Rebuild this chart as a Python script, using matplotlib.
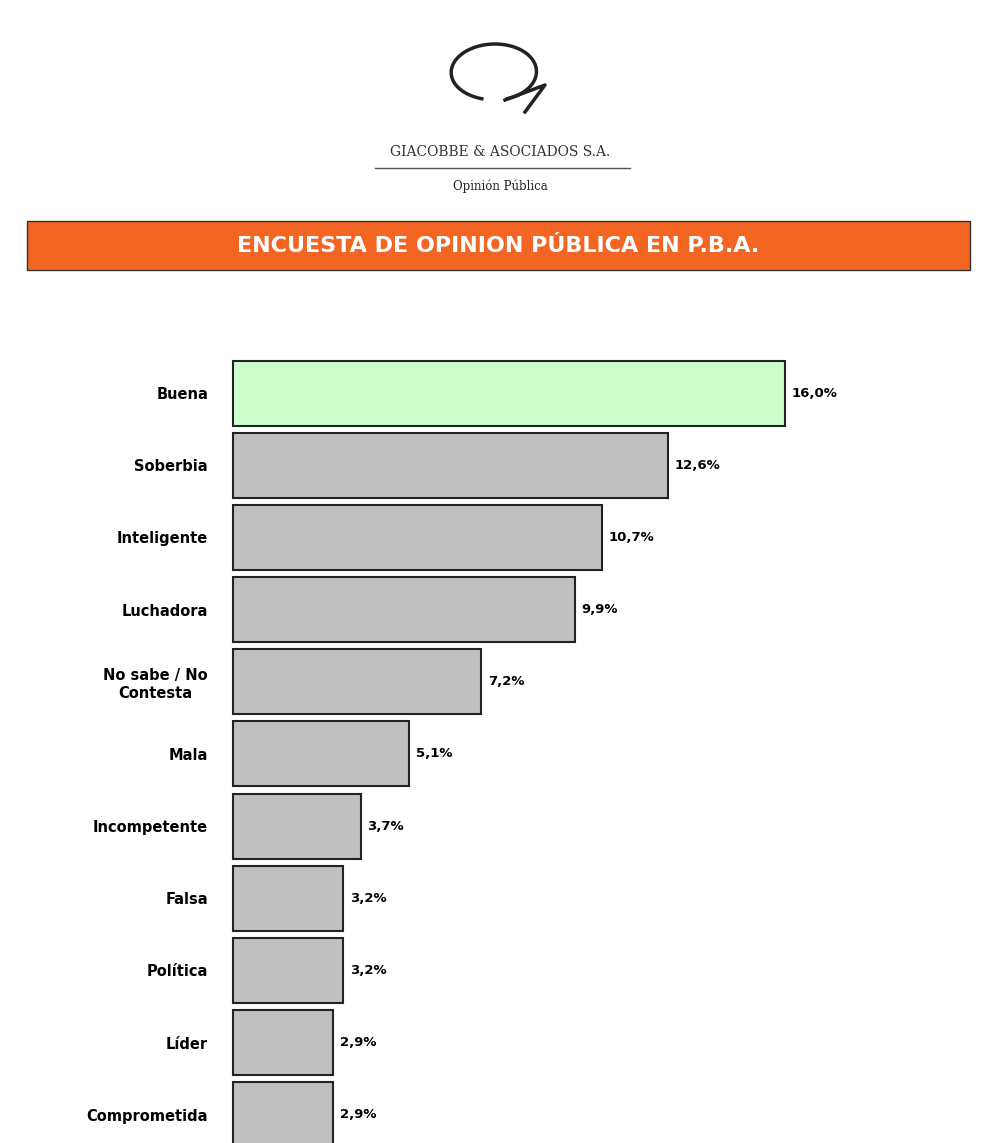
import matplotlib
matplotlib.use("Agg")
import matplotlib.pyplot as plt
import numpy as np
from matplotlib.patches import Rectangle

categories = ["Buena", "Soberbia", "Inteligente", "Luchadora", "No sabe / No\nContesta",
              "Mala", "Incompetente", "Falsa", "Política", "Líder", "Comprometida"]
values = [16.0, 12.6, 10.7, 9.9, 7.2, 5.1, 3.7, 3.2, 3.2, 2.9, 2.9]
labels = ["16,0%", "12,6%", "10,7%", "9,9%", "7,2%", "5,1%", "3,7%", "3,2%", "3,2%", "2,9%", "2,9%"]

W, H = 1000, 1143
fig = plt.figure(figsize=(10, 11.43), dpi=100)
fig.patch.set_facecolor("white")

def fx(x): return x / W
def fy(y): return 1 - y / H

# logo swirl
t = np.linspace(0.3, 2*np.pi*0.95, 200)
lx = 495 + 45*np.cos(t + np.pi/2) * (1 - 0.1*t/6)
ly = 72 + 28*np.sin(t + np.pi/2)
fig.add_artist(plt.Line2D(fx(lx), fy(ly), color="#222222", lw=2.5))
fig.add_artist(plt.Line2D([fx(505), fx(545), fx(525)], [fy(100), fy(85), fy(112)], color="#222222", lw=2.5))
fig.text(0.5, fy(152), "GIACOBBE & ASOCIADOS S.A.", ha="center", va="center",
         fontsize=10, family="DejaVu Serif", color="#333333")
fig.add_artist(plt.Line2D([fx(375), fx(630)], [fy(168), fy(168)], color="#555555", lw=1))
fig.text(0.5, fy(186), "Opinión Pública", ha="center", va="center",
         fontsize=8.5, family="DejaVu Serif", color="#222222")

# banner
fig.add_artist(Rectangle((fx(27), fy(270)), fx(943), 49/H, transform=fig.transFigure,
                         facecolor="#F26522", edgecolor="#333333", lw=1))
fig.text(fx(498), fy(246), "ENCUESTA DE OPINION PÚBLICA EN P.B.A.", ha="center", va="center",
         fontsize=16, fontweight="bold", color="white")

ax = fig.add_axes([0.233, 0.0, 0.767, 786/H])
y = np.arange(len(values))
colors = ["#CCFFCC"] + ["#C0C0C0"] * (len(values) - 1)
bars = ax.barh(y, values, height=0.9, color=colors, edgecolor="#222222", linewidth=1.5)
for b in bars:
    b.set_clip_on(False)
for yi, v, lab in zip(y, values, labels):
    ax.text(v + 0.2, yi, lab, va="center", ha="left", fontsize=9.5, fontweight="bold")
ax.set_xlim(0, 767/34.5)
ax.set_ylim(10.39, -0.5)
ax.set_yticks(y)
ax.set_yticklabels(categories, fontsize=10.5, fontweight="bold", ha="right", multialignment="center")
ax.tick_params(axis="y", length=0, pad=18)
ax.set_xticks([])
for s in ["top", "right", "bottom", "left"]:
    ax.spines[s].set_visible(False)

fig.savefig("out.png", dpi=100)
